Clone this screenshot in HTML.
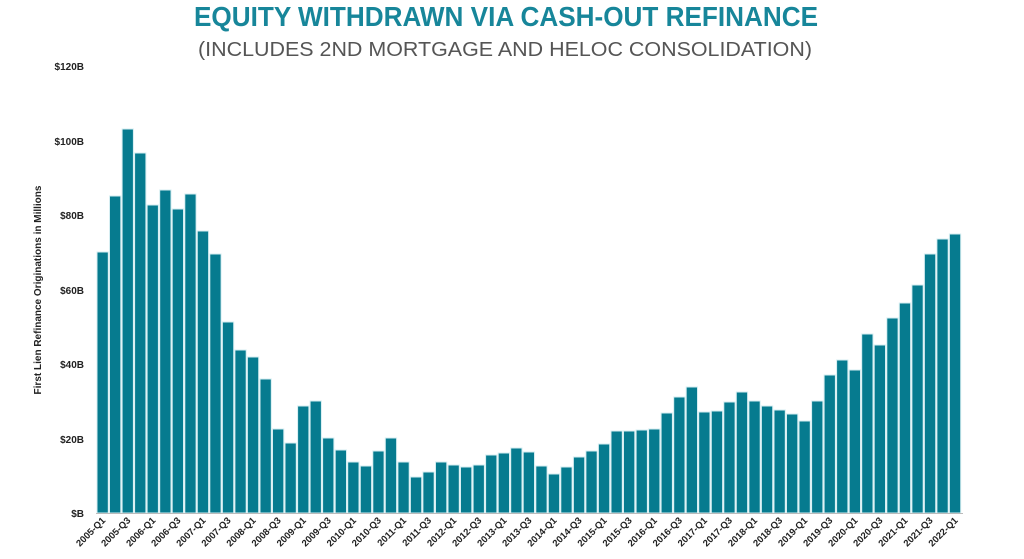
<!DOCTYPE html>
<html><head><meta charset="utf-8"><style>
html,body{margin:0;padding:0;background:#fff;}
svg{display:block;font-family:"Liberation Sans",sans-serif;}
</style></head><body>
<svg width="1024" height="559" viewBox="0 0 1024 559" xmlns="http://www.w3.org/2000/svg">
<text x="506" y="26" text-anchor="middle" font-size="28" font-weight="bold" fill="#17869a" textLength="624" lengthAdjust="spacingAndGlyphs">EQUITY WITHDRAWN VIA CASH-OUT REFINANCE</text>
<text x="505" y="56" text-anchor="middle" font-size="20" fill="#555" textLength="614" lengthAdjust="spacingAndGlyphs">(INCLUDES 2ND MORTGAGE AND HELOC CONSOLIDATION)</text>
<g font-size="10" font-weight="bold" fill="#222" text-anchor="end">
<text x="84" y="70">$120B</text>
<text x="84" y="145">$100B</text>
<text x="84" y="219">$80B</text>
<text x="84" y="294">$60B</text>
<text x="84" y="368">$40B</text>
<text x="84" y="443">$20B</text>
<text x="84" y="517">$B</text>
</g>
<text transform="translate(41,290) rotate(-90)" text-anchor="middle" font-size="10" font-weight="bold" fill="#222">First Lien Refinance Originations in Millions</text>
<g fill="#067b8f" stroke="#d6eef2" stroke-width="1">
<rect x="97.0" y="252" width="11.3" height="261"/>
<rect x="109.5" y="196" width="11.3" height="317"/>
<rect x="122.1" y="129" width="11.3" height="384"/>
<rect x="134.6" y="153" width="11.3" height="360"/>
<rect x="147.1" y="205" width="11.3" height="308"/>
<rect x="159.7" y="190" width="11.3" height="323"/>
<rect x="172.2" y="209" width="11.3" height="304"/>
<rect x="184.8" y="194" width="11.3" height="319"/>
<rect x="197.3" y="231" width="11.3" height="282"/>
<rect x="209.8" y="254" width="11.3" height="259"/>
<rect x="222.4" y="322" width="11.3" height="191"/>
<rect x="234.9" y="350" width="11.3" height="163"/>
<rect x="247.4" y="357" width="11.3" height="156"/>
<rect x="260.0" y="379" width="11.3" height="134"/>
<rect x="272.5" y="429" width="11.3" height="84"/>
<rect x="285.0" y="443" width="11.3" height="70"/>
<rect x="297.6" y="406" width="11.3" height="107"/>
<rect x="310.1" y="401" width="11.3" height="112"/>
<rect x="322.6" y="438" width="11.3" height="75"/>
<rect x="335.2" y="450" width="11.3" height="63"/>
<rect x="347.7" y="462" width="11.3" height="51"/>
<rect x="360.3" y="466" width="11.3" height="47"/>
<rect x="372.8" y="451" width="11.3" height="62"/>
<rect x="385.3" y="438" width="11.3" height="75"/>
<rect x="397.9" y="462" width="11.3" height="51"/>
<rect x="410.4" y="477" width="11.3" height="36"/>
<rect x="422.9" y="472" width="11.3" height="41"/>
<rect x="435.5" y="462" width="11.3" height="51"/>
<rect x="448.0" y="465" width="11.3" height="48"/>
<rect x="460.5" y="467" width="11.3" height="46"/>
<rect x="473.1" y="465" width="11.3" height="48"/>
<rect x="485.6" y="455" width="11.3" height="58"/>
<rect x="498.2" y="453" width="11.3" height="60"/>
<rect x="510.7" y="448" width="11.3" height="65"/>
<rect x="523.2" y="452" width="11.3" height="61"/>
<rect x="535.8" y="466" width="11.3" height="47"/>
<rect x="548.3" y="474" width="11.3" height="39"/>
<rect x="560.8" y="467" width="11.3" height="46"/>
<rect x="573.4" y="457" width="11.3" height="56"/>
<rect x="585.9" y="451" width="11.3" height="62"/>
<rect x="598.4" y="444" width="11.3" height="69"/>
<rect x="611.0" y="431" width="11.3" height="82"/>
<rect x="623.5" y="431" width="11.3" height="82"/>
<rect x="636.1" y="430" width="11.3" height="83"/>
<rect x="648.6" y="429" width="11.3" height="84"/>
<rect x="661.1" y="413" width="11.3" height="100"/>
<rect x="673.7" y="397" width="11.3" height="116"/>
<rect x="686.2" y="387" width="11.3" height="126"/>
<rect x="698.7" y="412" width="11.3" height="101"/>
<rect x="711.3" y="411" width="11.3" height="102"/>
<rect x="723.8" y="402" width="11.3" height="111"/>
<rect x="736.3" y="392" width="11.3" height="121"/>
<rect x="748.9" y="401" width="11.3" height="112"/>
<rect x="761.4" y="406" width="11.3" height="107"/>
<rect x="774.0" y="410" width="11.3" height="103"/>
<rect x="786.5" y="414" width="11.3" height="99"/>
<rect x="799.0" y="421" width="11.3" height="92"/>
<rect x="811.6" y="401" width="11.3" height="112"/>
<rect x="824.1" y="375" width="11.3" height="138"/>
<rect x="836.6" y="360" width="11.3" height="153"/>
<rect x="849.2" y="370" width="11.3" height="143"/>
<rect x="861.7" y="334" width="11.3" height="179"/>
<rect x="874.2" y="345" width="11.3" height="168"/>
<rect x="886.8" y="318" width="11.3" height="195"/>
<rect x="899.3" y="303" width="11.3" height="210"/>
<rect x="911.9" y="285" width="11.3" height="228"/>
<rect x="924.4" y="254" width="11.3" height="259"/>
<rect x="936.9" y="239" width="11.3" height="274"/>
<rect x="949.4" y="234" width="11.3" height="279"/>
</g>
<line x1="96" y1="513.5" x2="963" y2="513.5" stroke="#bbb" stroke-width="1"/>
<g font-size="9.5" font-weight="bold" fill="#222" text-anchor="end">
<text transform="translate(106,521) rotate(-45)">2005-Q1</text>
<text transform="translate(131.1,521) rotate(-45)">2005-Q3</text>
<text transform="translate(156.1,521) rotate(-45)">2006-Q1</text>
<text transform="translate(181.2,521) rotate(-45)">2006-Q3</text>
<text transform="translate(206.3,521) rotate(-45)">2007-Q1</text>
<text transform="translate(231.4,521) rotate(-45)">2007-Q3</text>
<text transform="translate(256.4,521) rotate(-45)">2008-Q1</text>
<text transform="translate(281.5,521) rotate(-45)">2008-Q3</text>
<text transform="translate(306.6,521) rotate(-45)">2009-Q1</text>
<text transform="translate(331.6,521) rotate(-45)">2009-Q3</text>
<text transform="translate(356.7,521) rotate(-45)">2010-Q1</text>
<text transform="translate(381.8,521) rotate(-45)">2010-Q3</text>
<text transform="translate(406.9,521) rotate(-45)">2011-Q1</text>
<text transform="translate(431.9,521) rotate(-45)">2011-Q3</text>
<text transform="translate(457,521) rotate(-45)">2012-Q1</text>
<text transform="translate(482.1,521) rotate(-45)">2012-Q3</text>
<text transform="translate(507.2,521) rotate(-45)">2013-Q1</text>
<text transform="translate(532.2,521) rotate(-45)">2013-Q3</text>
<text transform="translate(557.3,521) rotate(-45)">2014-Q1</text>
<text transform="translate(582.4,521) rotate(-45)">2014-Q3</text>
<text transform="translate(607.4,521) rotate(-45)">2015-Q1</text>
<text transform="translate(632.5,521) rotate(-45)">2015-Q3</text>
<text transform="translate(657.6,521) rotate(-45)">2016-Q1</text>
<text transform="translate(682.7,521) rotate(-45)">2016-Q3</text>
<text transform="translate(707.7,521) rotate(-45)">2017-Q1</text>
<text transform="translate(732.8,521) rotate(-45)">2017-Q3</text>
<text transform="translate(757.9,521) rotate(-45)">2018-Q1</text>
<text transform="translate(783,521) rotate(-45)">2018-Q3</text>
<text transform="translate(808,521) rotate(-45)">2019-Q1</text>
<text transform="translate(833.1,521) rotate(-45)">2019-Q3</text>
<text transform="translate(858.2,521) rotate(-45)">2020-Q1</text>
<text transform="translate(883.2,521) rotate(-45)">2020-Q3</text>
<text transform="translate(908.3,521) rotate(-45)">2021-Q1</text>
<text transform="translate(933.4,521) rotate(-45)">2021-Q3</text>
<text transform="translate(958.4,521) rotate(-45)">2022-Q1</text>
</g>
</svg>
</body></html>
